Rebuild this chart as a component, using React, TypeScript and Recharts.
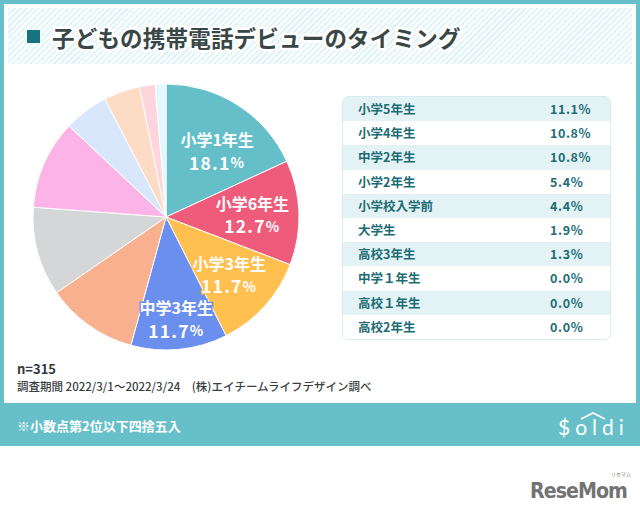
import React from "react";
import { PieChart, Pie, Cell } from "recharts";

const categories = [
  "小学1年生", "小学6年生", "小学3年生", "中学3年生", "小学5年生", "小学4年生", "中学2年生",
  "小学2年生", "小学校入学前", "大学生", "高校3年生", "中学１年生", "高校１年生", "高校2年生",
];
const values = [18.1, 12.7, 11.7, 11.7, 11.1, 10.8, 10.8, 5.4, 4.4, 1.9, 1.3, 0.0, 0.0, 0.0];
const colors = [
  "#65BFC9", "#EE5B7B", "#FFC04F", "#6B8FEE", "#F9B08F", "#D5D6D8", "#FBB3E8",
  "#D8E7FB", "#FDDCC6", "#FDD5DC", "#E3F8FD", "#FFFFFF", "#FFFFFF", "#FFFFFF",
];
const labeledCount = 4;
const titleText = "子どもの携帯電話デビューのタイミング";
const sampleText = "n=315";
const periodText = "調査期間 2022/3/1～2022/3/24　(株)エイチームライフデザイン調べ";
const noteText = "※小数点第2位以下四捨五入";

const pieData = categories
  .map((name, i) => ({ name, value: values[i], color: colors[i] }))
  .filter((d) => d.value > 0);
const tableData = categories.map((name, i) => ({ name, value: values[i] })).slice(labeledCount);

const FONT = '"Noto Sans CJK JP", "Noto Sans", sans-serif';
const RAD = Math.PI / 180;
const labelRadius = [0.63, 0.65, 0.64, 0.77];
const labelAngleShift = [-5, 0, 0, 0];

const renderLabel = (props: any) => {
  const { cx, cy, midAngle, outerRadius, index } = props;
  if (index >= labeledCount) return null;
  const r = outerRadius * labelRadius[index];
  const a = (midAngle + labelAngleShift[index]) * RAD;
  const x = cx + r * Math.cos(-a);
  const y = cy + r * Math.sin(-a);
  const d = pieData[index];
  const common = {
    textAnchor: "middle" as const,
    dominantBaseline: "central" as const,
    fill: "#ffffff",
    stroke: d.color,
    strokeWidth: 3,
    paintOrder: "stroke" as const,
    fontFamily: FONT,
    fontWeight: 700,
  };
  return (
    <g>
      <text x={x} y={y - 11.5} fontSize={16} {...common}>
        {d.name}
      </text>
      <text x={x} y={y + 11.5} fontSize={17.5} letterSpacing={1.2} {...common}>
        {d.value.toFixed(1)}
        <tspan fontSize={14}>%</tspan>
      </text>
    </g>
  );
};

export default function App() {
  return (
    <div
      style={{
        position: "absolute",
        left: 0,
        top: 0,
        width: 640,
        height: 512,
        background: "#ffffff",
        fontFamily: FONT,
        overflow: "hidden",
      }}
    >
      {/* teal frame */}
      <div style={{ position: "absolute", left: 0, top: 0, width: 640, height: 446, background: "#66BFC9" }} />
      <div style={{ position: "absolute", left: 4, top: 4, width: 632, height: 399, background: "#ffffff" }} />
      {/* striped title band */}
      <div
        style={{
          position: "absolute",
          left: 8,
          top: 8,
          width: 624,
          height: 56,
          background:
            "repeating-linear-gradient(135deg, #E3F3F5 0px, #E3F3F5 1.6px, #F7FCFC 1.6px, #F7FCFC 4.2px)",
        }}
      />
      <div style={{ position: "absolute", left: 27, top: 30, width: 13, height: 13, background: "#17737E" }} />
      <svg style={{ position: "absolute", left: 0, top: 0 }} width={640} height={70}>
        <text
          x={52}
          y={37}
          dominantBaseline="central"
          fontFamily={FONT}
          fontWeight={700}
          fontSize={22.5}
          letterSpacing={0.2}
          fill="#3A4747"
          stroke="#ffffff"
          strokeWidth={5}
          strokeLinejoin="round"
          paintOrder="stroke"
        >
          {titleText}
        </text>
      </svg>

      {/* pie */}
      <div style={{ position: "absolute", left: 16, top: 67, width: 300, height: 300 }}>
        <PieChart width={300} height={300} margin={{ top: 0, right: 0, bottom: 0, left: 0 }}>
          <Pie
            data={pieData}
            dataKey="value"
            nameKey="name"
            cx={150}
            cy={150}
            outerRadius={133}
            startAngle={90}
            endAngle={-270}
            stroke="#ffffff"
            strokeWidth={1}
            isAnimationActive={false}
            label={renderLabel}
            labelLine={false}
          >
            {pieData.map((d) => (
              <Cell key={d.name} fill={d.color} />
            ))}
          </Pie>
        </PieChart>
      </div>

      {/* table */}
      <div
        style={{
          position: "absolute",
          left: 342,
          top: 96,
          width: 267,
          height: 242,
          border: "1px solid #D6EEF1",
          borderRadius: 6,
          overflow: "hidden",
        }}
      >
        {tableData.map((d, i) => (
          <div
            key={d.name}
            style={{
              position: "relative",
              height: 24.2,
              background: i % 2 === 0 ? "#E3F3F5" : "#ffffff",
              color: "#1C6C75",
              fontWeight: 700,
              fontSize: 12.5,
              lineHeight: "24.2px",
            }}
          >
            <span style={{ position: "absolute", left: 15 }}>{d.name}</span>
            <span style={{ position: "absolute", left: 207, letterSpacing: 0.6 }}>{d.value.toFixed(1)}%</span>
          </div>
        ))}
      </div>

      {/* footer texts */}
      <div style={{ position: "absolute", left: 17, top: 360, fontSize: 13, fontWeight: 700, color: "#333a3a", lineHeight: "18px" }}>
        {sampleText}
      </div>
      <div style={{ position: "absolute", left: 17, top: 377, fontSize: 11.5, fontWeight: 500, color: "#3a3f3f", lineHeight: "18px", whiteSpace: "pre" }}>
        {periodText}
      </div>
      <div style={{ position: "absolute", left: 17, top: 416, fontSize: 13, fontWeight: 700, color: "#ffffff", lineHeight: "20px" }}>
        {noteText}
      </div>

      {/* Soldi logo */}
      <svg style={{ position: "absolute", left: 550, top: 408 }} width={88} height={34}>
        <polyline points="31,11 43,5 55,11" fill="none" stroke="#ffffff" strokeWidth={1.6} />
        <text x={8} y={27} fontFamily="Lato, sans-serif" fontWeight={400} fontSize={21} letterSpacing={5} fill="#ffffff">
          $oldi
        </text>
      </svg>

      {/* ReseMom logo */}
      <svg style={{ position: "absolute", left: 525, top: 470 }} width={110} height={36}>
        <text x={86} y={6} fontFamily={FONT} fontSize={5} fill="#777777">
          リセマム
        </text>
        <text
          x={5}
          y={28}
          fontFamily='"DejaVu Sans Condensed", "DejaVu Sans", sans-serif'
          fontWeight={700}
          fontSize={22}
          letterSpacing={-1}
          fill="#737373"
          textLength={97}
          lengthAdjust="spacingAndGlyphs"
        >
          ReseMom
        </text>
      </svg>
    </div>
  );
}
